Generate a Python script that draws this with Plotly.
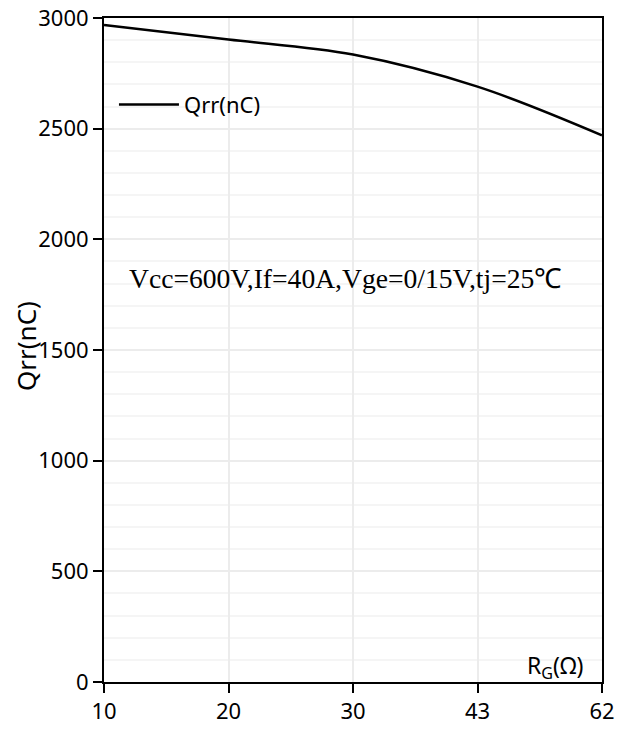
import plotly.graph_objects as go

rg_labels = ["10", "20", "30", "43", "62"]
qrr_values = [2968, 2903, 2835, 2690, 2470]
y_ticks = [0, 500, 1000, 1500, 2000, 2500, 3000]

SANS = "Noto Sans, sans-serif"

fig = go.Figure()
fig.add_trace(go.Scatter(
    x=rg_labels, y=qrr_values, mode="lines", name="Qrr(nC)",
    line=dict(color="black", width=2.5, shape="spline", smoothing=1.0),
))

fig.update_layout(
    width=627, height=733,
    margin=dict(l=104, r=25, t=18, b=51, autoexpand=False),
    paper_bgcolor="white", plot_bgcolor="white",
    showlegend=True,
    legend=dict(x=0.02, y=0.8695, xanchor="left", yanchor="middle",
                bgcolor="rgba(0,0,0,0)", font=dict(family=SANS, size=22, color="black"),
                itemwidth=60),
    font=dict(family=SANS, color="black"),
)
fig.update_xaxes(
    type="category", range=[0, 4], automargin=False,
    showline=True, linecolor="black", linewidth=2, mirror=True,
    ticks="outside", ticklen=9, tickwidth=2, tickcolor="black",
    showgrid=True, gridcolor="#ececec", gridwidth=2,
    tickfont=dict(family=SANS, size=22, color="black"),
    zeroline=False,
)
fig.update_yaxes(
    range=[0, 3000], tickvals=y_ticks, automargin=False,
    showline=True, linecolor="black", linewidth=2, mirror=True,
    ticks="outside", ticklen=9, tickwidth=2, tickcolor="black",
    showgrid=True, gridcolor="#ececec", gridwidth=2,
    minor=dict(dtick=100, showgrid=True, gridcolor="#f5f5f5", gridwidth=2, ticks=""),
    tickfont=dict(family=SANS, size=22, color="black"),
    zeroline=False,
)

fig.add_annotation(
    text="Vcc=600V,If=40A,Vge=0/15V,tj=25℃", xref="paper", yref="paper",
    x=(345 - 104) / 498, y=(682 - 278) / 664, xanchor="center", yanchor="middle", showarrow=False,
    font=dict(family="Liberation Serif, Times New Roman, serif", size=27.6, color="black"),
)
fig.add_annotation(
    text="Qrr(nC)", xref="paper", yref="paper", textangle=-90,
    x=(26 - 104) / 498, y=(682 - 346) / 664, xanchor="center", yanchor="middle",
    showarrow=False, font=dict(family=SANS, size=26, color="black"),
)
fig.add_annotation(
    text="R<sub>G</sub>(Ω)", xref="paper", yref="paper",
    x=(555 - 104) / 498, y=(682 - 666) / 664, xanchor="center", yanchor="middle",
    showarrow=False, font=dict(family=SANS, size=23, color="black"),
)

fig.write_html(
    "out.html",
    config={"displayModeBar": False},
    post_script="document.body.style.margin='0';document.body.style.overflow='hidden';",
)
